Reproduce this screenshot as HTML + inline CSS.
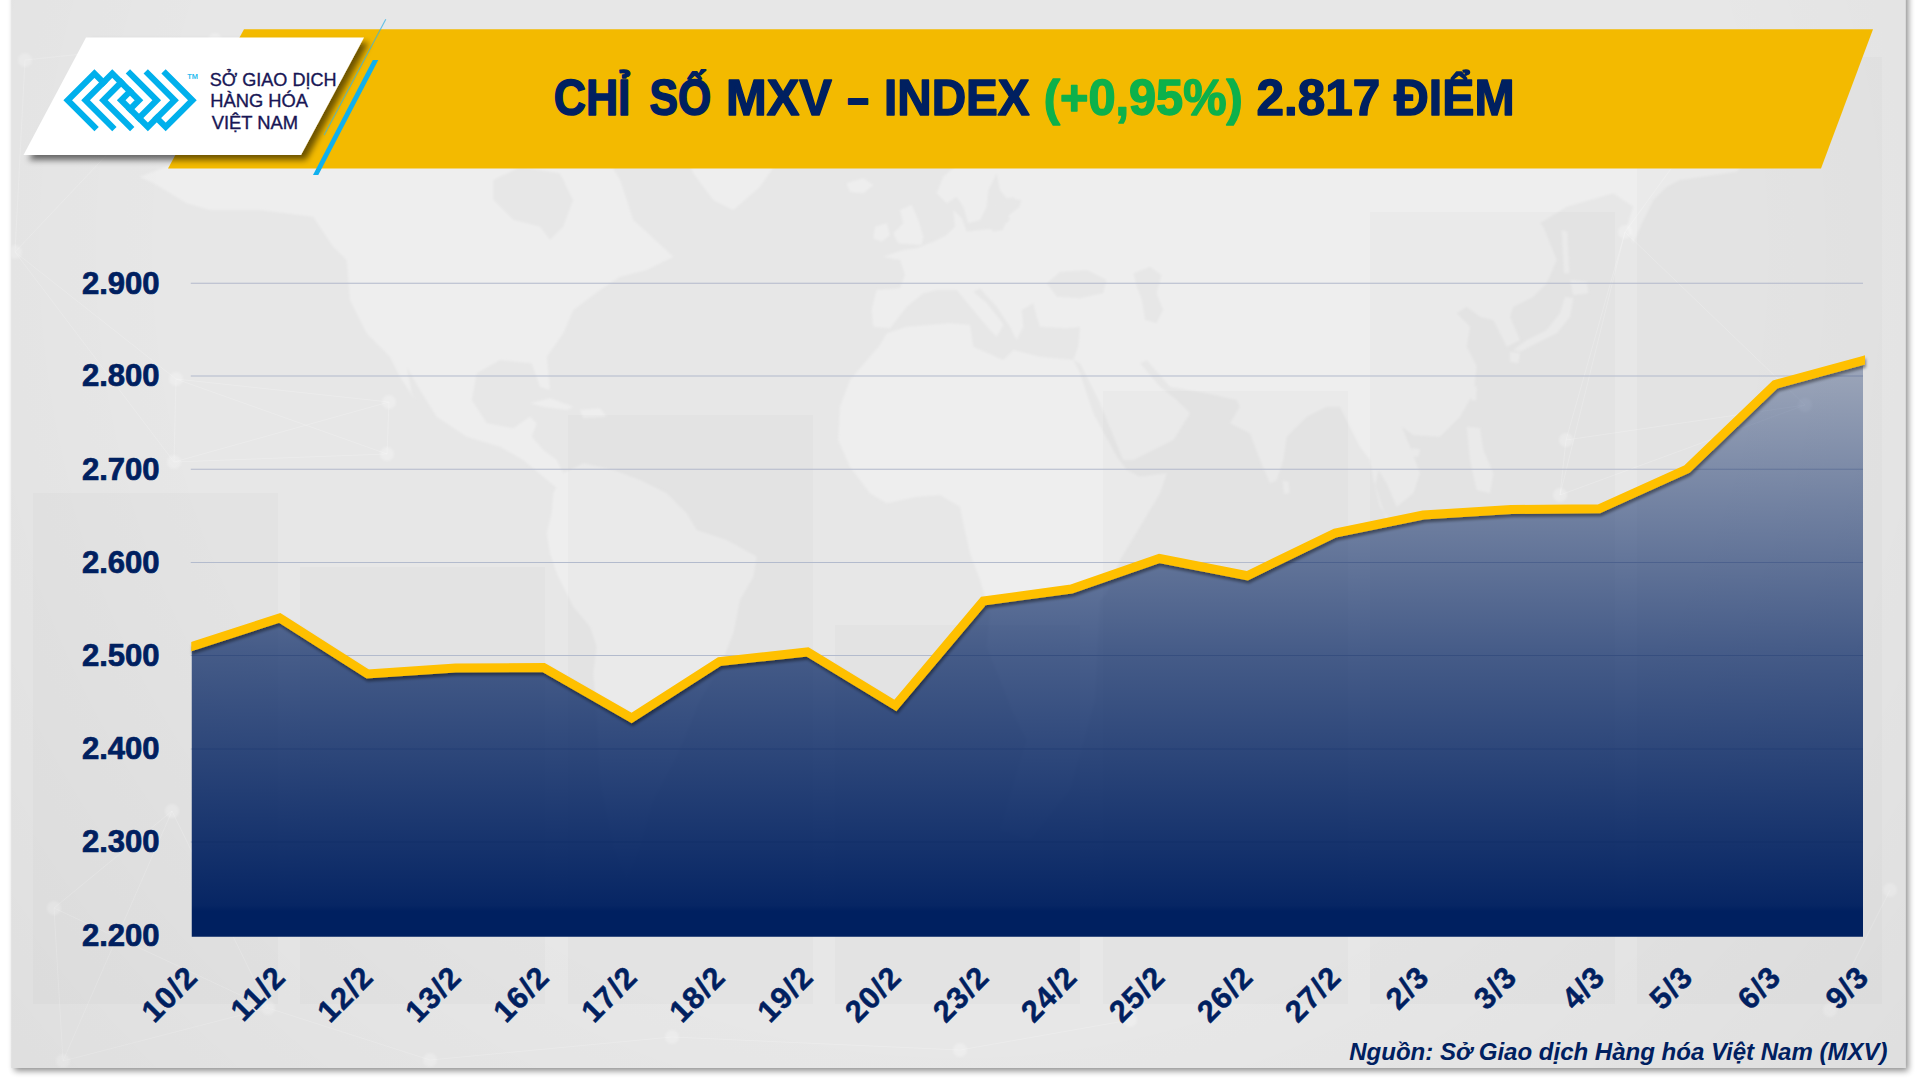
<!DOCTYPE html>
<html lang="vi"><head><meta charset="utf-8"><title>MXV Index</title>
<style>
html,body{margin:0;padding:0;background:#fff;}
body{width:1920px;height:1080px;overflow:hidden;position:relative;font-family:"Liberation Sans",sans-serif;}
svg{position:absolute;left:0;top:0;display:block}
text{font-family:"Liberation Sans",sans-serif;}
</style></head><body>
<svg width="1920" height="1080" viewBox="0 0 1920 1080">
<defs>
<filter id="pshadow" x="-5%" y="-5%" width="110%" height="110%"><feGaussianBlur in="SourceAlpha" stdDeviation="3"/><feOffset dx="3" dy="3"/><feComponentTransfer><feFuncA type="linear" slope="0.45"/></feComponentTransfer><feMerge><feMergeNode/><feMergeNode in="SourceGraphic"/></feMerge></filter>
<filter id="lshadow" x="-5%" y="-20%" width="110%" height="140%"><feGaussianBlur in="SourceAlpha" stdDeviation="1.8"/><feOffset dx="0.8" dy="2.6"/><feComponentTransfer><feFuncA type="linear" slope="0.42"/></feComponentTransfer><feMerge><feMergeNode/><feMergeNode in="SourceGraphic"/></feMerge></filter>
<filter id="wshadow" x="-10%" y="-20%" width="125%" height="150%"><feGaussianBlur in="SourceAlpha" stdDeviation="3.2"/><feOffset dx="4.5" dy="4.5"/><feComponentTransfer><feFuncA type="linear" slope="0.56"/></feComponentTransfer><feMerge><feMergeNode/><feMergeNode in="SourceGraphic"/></feMerge></filter>
<linearGradient id="ag" gradientUnits="userSpaceOnUse" x1="0" y1="360" x2="0" y2="937">
<stop offset="0" stop-color="#002060" stop-opacity="0.30"/>
<stop offset="0.5" stop-color="#002060" stop-opacity="0.69"/>
<stop offset="0.945" stop-color="#002060" stop-opacity="0.97"/>
<stop offset="0.955" stop-color="#002060" stop-opacity="1"/>
<stop offset="1" stop-color="#002060" stop-opacity="1"/>
</linearGradient>
<filter id="soft" x="0" y="0" width="100%" height="100%" filterUnits="userSpaceOnUse"><feGaussianBlur stdDeviation="1.3"/></filter>
<clipPath id="lineclip"><rect x="191.25" y="200" width="1673.75" height="800"/></clipPath>
<clipPath id="panelclip"><rect x="11.3" y="0" width="1894" height="1067.9"/></clipPath>
<radialGradient id="vig" gradientUnits="userSpaceOnUse" cx="960" cy="250" r="1300"><stop offset="0.6" stop-color="#000" stop-opacity="0"/><stop offset="1" stop-color="#000" stop-opacity="0.04"/></radialGradient>
</defs>

<rect x="11.3" y="-10" width="1894" height="1077.9" fill="#e6e6e6" filter="url(#pshadow)"/>
<g id="bg" clip-path="url(#panelclip)">
<rect x="0" y="0" width="1920" height="1080" fill="#e7e7e7"/>
<g filter="url(#soft)">
<path fill="#eeeeee" d="M156.7,185.0 L140.0,176.7 L166.7,166.7 L210.0,146.7 L333.3,140.0 L466.7,140.0 L600.0,146.7 L620.0,180.0 L633.3,220.0 L673.3,256.7 L646.7,270.0 L620.0,276.7 L600.0,290.0 L573.3,310.0 L563.3,333.3 L546.7,356.7 L550.0,390.0 L540.0,386.7 L531.7,363.3 L500.0,360.0 L476.7,373.3 L471.7,400.0 L486.7,423.3 L513.3,428.3 L530.0,416.7 L536.7,423.3 L531.7,436.7 L543.3,450.0 L556.7,460.0 L566.7,480.0 L580.0,493.3 L593.3,496.7 L600.0,506.7 L580.0,503.3 L563.3,493.3 L543.3,476.7 L523.3,460.0 L500.0,446.7 L466.7,436.7 L436.7,416.7 L420.0,390.0 L406.7,366.7 L411.7,393.3 L415.0,400.0 L400.0,376.7 L390.0,356.7 L366.7,333.3 L350.0,300.0 L346.7,260.0 L333.3,246.7 L313.3,216.7 L260.0,210.0 L210.0,210.0 L186.7,203.3 Z M680.0,140.0 L740.0,140.0 L783.3,153.3 L760.0,186.7 L733.3,210.0 L713.3,200.0 L693.3,173.3 Z M530.0,403.3 L550.0,398.3 L573.3,406.7 L566.7,410.0 L543.3,406.7 Z M580.0,410.0 L600.0,408.3 L606.7,416.7 L583.3,418.3 Z M563.3,473.3 L583.3,463.3 L613.3,470.0 L640.0,480.0 L666.7,493.3 L686.7,513.3 L696.7,530.0 L726.7,540.0 L756.7,556.7 L753.3,576.7 L740.0,600.0 L733.3,633.3 L720.0,666.7 L700.0,700.0 L686.7,733.3 L673.3,763.3 L653.3,800.0 L640.0,846.7 L626.7,880.0 L613.3,846.7 L600.0,780.0 L596.7,713.3 L593.3,673.3 L596.7,646.7 L590.0,626.7 L573.3,606.7 L556.7,573.3 L550.0,553.3 L546.7,533.3 L551.7,513.3 L553.3,493.3 Z M1026.7,740.0 L1013.3,713.3 L1000.0,680.0 L986.7,646.7 L990.0,613.3 L980.0,580.0 L970.0,553.3 L963.3,523.3 L960.0,506.7 L940.0,495.0 L916.7,496.7 L886.7,503.3 L870.0,493.3 L850.0,466.7 L838.3,440.0 L840.0,406.7 L850.0,380.0 L880.0,345.0 L886.7,333.3 L906.7,326.7 L950.0,323.3 L970.0,325.0 L973.3,346.7 L1003.3,360.0 L1013.3,350.0 L1040.0,356.7 L1073.3,360.0 L1080.0,373.3 L1093.3,413.3 L1116.7,456.7 L1126.7,470.0 L1140.0,476.7 L1166.7,473.3 L1160.0,493.3 L1140.0,526.7 L1120.0,560.0 L1106.7,593.3 L1100.0,600.0 L1095.0,700.0 L1070.0,790.0 L1030.0,840.0 L1000.0,830.0 Z M873.3,326.7 L871.7,310.0 L876.7,290.0 L900.0,288.3 L905.0,275.0 L900.0,260.0 L883.3,256.7 L903.3,250.0 L916.7,248.3 L933.3,241.7 L946.7,235.0 L955.0,226.7 L953.3,210.0 L961.7,218.3 L966.7,231.7 L980.0,230.0 L1000.0,228.3 L1010.0,220.0 L1006.7,210.0 L1020.0,205.0 L1021.7,200.0 L1006.7,198.3 L1000.0,190.0 L996.7,173.3 L988.3,190.0 L986.7,206.7 L980.0,220.0 L968.3,223.3 L963.3,206.7 L956.7,196.7 L946.7,203.3 L936.7,193.3 L943.3,176.7 L966.7,156.7 L993.3,146.7 L1073.3,140.0 L1746.7,140.0 L1746.7,160.0 L1736.7,171.7 L1680.0,180.0 L1666.7,186.7 L1653.3,200.0 L1643.3,220.0 L1633.3,243.3 L1626.7,226.7 L1633.3,206.7 L1613.3,193.3 L1566.7,206.7 L1540.0,223.3 L1543.3,226.7 L1556.7,260.0 L1546.7,283.3 L1533.3,296.7 L1513.3,306.7 L1510.0,316.7 L1520.0,340.0 L1506.7,346.7 L1500.0,333.3 L1493.3,320.0 L1480.0,316.7 L1466.7,306.7 L1456.7,313.3 L1470.0,326.7 L1466.7,346.7 L1476.7,366.7 L1473.3,393.3 L1460.0,416.7 L1440.0,436.7 L1413.3,435.0 L1401.7,426.7 L1410.0,446.7 L1420.0,473.3 L1413.3,493.3 L1396.7,506.7 L1386.7,483.3 L1378.3,470.0 L1375.0,486.7 L1380.0,506.7 L1390.0,520.0 L1386.7,520.0 L1380.0,500.0 L1373.3,480.0 L1370.0,460.0 L1360.0,446.7 L1350.0,426.7 L1340.0,406.7 L1326.7,406.7 L1306.7,416.7 L1286.7,436.7 L1283.3,460.0 L1276.7,480.0 L1270.0,483.3 L1260.0,460.0 L1250.0,433.3 L1230.0,423.3 L1240.0,406.7 L1236.7,400.0 L1206.7,393.3 L1170.0,386.7 L1146.7,360.0 L1140.0,363.3 L1160.0,386.7 L1176.7,400.0 L1190.0,413.3 L1173.3,440.0 L1133.3,460.0 L1123.3,460.0 L1100.0,403.3 L1080.0,363.3 L1073.3,360.0 L1078.3,346.7 L1080.0,326.7 L1066.7,328.3 L1040.0,326.7 L1036.7,316.7 L1033.3,303.3 L1021.7,310.0 L1023.3,326.7 L1016.7,340.0 L1010.0,326.7 L996.7,306.7 L980.0,288.3 L973.3,291.7 L986.7,303.3 L1000.0,320.0 L1003.3,325.0 L996.7,336.7 L990.0,330.0 L973.3,310.0 L956.7,290.0 L936.7,290.0 L923.3,293.3 L906.7,306.7 L890.0,328.3 Z M898.3,243.3 L893.3,233.3 L903.3,223.3 L900.0,210.0 L911.7,205.0 L918.3,220.0 L923.3,236.7 L921.7,245.0 Z M873.3,238.3 L875.0,226.7 L886.7,223.3 L890.0,235.0 L881.7,241.7 Z M846.7,183.3 L863.3,178.3 L873.3,185.0 L863.3,193.3 L850.0,191.7 Z M1570.0,280.0 L1586.7,281.7 L1588.3,293.3 L1573.3,295.0 Z M1565.0,296.7 L1573.3,298.3 L1570.0,316.7 L1556.7,333.3 L1536.7,343.3 L1520.0,351.7 L1513.3,350.0 L1526.7,340.0 L1546.7,330.0 L1560.0,313.3 Z M1510.0,351.7 L1520.0,353.3 L1518.3,363.3 L1510.0,361.7 Z M1561.7,230.0 L1567.3,231.7 L1569.3,273.3 L1564.0,273.3 Z M1470.7,386.7 L1476.7,386.0 L1476.0,400.7 L1471.3,400.0 Z M1466.7,426.7 L1480.0,428.3 L1483.3,450.0 L1493.3,473.3 L1490.0,493.3 L1476.7,490.0 L1470.0,460.0 Z M1411.7,448.3 L1420.0,449.3 L1418.3,456.7 L1411.7,456.0 Z M1282.7,480.7 L1288.7,481.7 L1289.3,493.3 L1284.0,494.0 Z"/>
<path fill="#e7e7e7" d="M493.3,180.0 L520.0,166.7 L560.0,173.3 L573.3,200.0 L563.3,226.7 L550.0,240.0 L540.0,226.7 L513.3,220.0 L493.3,200.0 Z M1046.7,283.3 L1060.0,271.7 L1086.7,270.0 L1106.7,280.0 L1103.3,293.3 L1080.0,298.3 L1056.7,296.7 Z M1133.3,273.3 L1150.0,266.7 L1161.7,275.0 L1156.7,293.3 L1163.3,310.0 L1156.7,323.3 L1145.0,320.0 L1141.7,300.0 L1136.7,286.7 Z M986.7,223.3 L993.3,203.3 L1013.3,196.7 L1020.0,206.7 L1006.7,216.7 L1003.3,230.0 L993.3,231.7 Z"/>
</g>
<g fill="#000" fill-opacity="0.014">
<rect x="33" y="493" width="245" height="511"/>
<rect x="300" y="567" width="245" height="437"/>
<rect x="568" y="415" width="245" height="589"/>
<rect x="835" y="625" width="245" height="379"/>
<rect x="1103" y="391" width="245" height="613"/>
<rect x="1370" y="212" width="245" height="792"/>
<rect x="1637" y="57" width="245" height="947"/>
</g>
<g stroke="#fff" stroke-opacity="0.2" stroke-width="1" fill="none">
<line x1="54" y1="908" x2="172" y2="811"/>
<line x1="54" y1="908" x2="63" y2="1061"/>
<line x1="54" y1="908" x2="268" y2="1008"/>
<line x1="172" y1="811" x2="63" y2="1061"/>
<line x1="172" y1="811" x2="268" y2="1008"/>
<line x1="63" y1="1061" x2="268" y2="1008"/>
<line x1="268" y1="1008" x2="430" y2="1060"/>
<line x1="672" y1="1037" x2="960" y2="1050"/>
<line x1="672" y1="1037" x2="430" y2="1060"/>
<line x1="176" y1="379" x2="174" y2="462"/>
<line x1="176" y1="379" x2="389" y2="402"/>
<line x1="176" y1="379" x2="387" y2="454"/>
<line x1="176" y1="379" x2="15" y2="252"/>
<line x1="174" y1="462" x2="389" y2="402"/>
<line x1="174" y1="462" x2="387" y2="454"/>
<line x1="174" y1="462" x2="15" y2="252"/>
<line x1="389" y1="402" x2="387" y2="454"/>
<line x1="15" y1="252" x2="25" y2="60"/>
<line x1="15" y1="252" x2="215" y2="40"/>
<line x1="1566" y1="440" x2="1560" y2="495"/>
<line x1="1566" y1="440" x2="1625" y2="232"/>
<line x1="1566" y1="440" x2="1805" y2="405"/>
<line x1="1560" y1="495" x2="1625" y2="232"/>
<line x1="1560" y1="495" x2="1805" y2="405"/>
<line x1="1625" y1="232" x2="1805" y2="405"/>
<line x1="1625" y1="232" x2="1750" y2="60"/>
<line x1="1890" y1="890" x2="1830" y2="1010"/>
<line x1="1130" y1="1020" x2="960" y2="1050"/>
<line x1="25" y1="60" x2="215" y2="40"/>
</g>
<g fill="#fff" fill-opacity="0.24" filter="url(#soft)">
<circle cx="54" cy="908" r="7"/>
<circle cx="172" cy="811" r="7"/>
<circle cx="63" cy="1061" r="7"/>
<circle cx="268" cy="1008" r="7"/>
<circle cx="672" cy="1037" r="7"/>
<circle cx="176" cy="379" r="7"/>
<circle cx="174" cy="462" r="7"/>
<circle cx="389" cy="402" r="7"/>
<circle cx="387" cy="454" r="7"/>
<circle cx="15" cy="252" r="7"/>
<circle cx="1566" cy="440" r="7"/>
<circle cx="1560" cy="495" r="7"/>
<circle cx="1625" cy="232" r="7"/>
<circle cx="1805" cy="405" r="7"/>
<circle cx="1890" cy="890" r="7"/>
<circle cx="1830" cy="1010" r="7"/>
<circle cx="1130" cy="1020" r="7"/>
<circle cx="960" cy="1050" r="7"/>
<circle cx="430" cy="1060" r="7"/>
<circle cx="25" cy="60" r="7"/>
<circle cx="215" cy="40" r="7"/>
<circle cx="1750" cy="60" r="7"/>
</g>
<rect x="0" y="0" width="1920" height="1080" fill="url(#vig)"/>
</g>
<g id="banner">
<polygon points="244,29.2 1873,29.2 1821,168.6 168,168.6" fill="#f3ba00"/>
<polygon points="86,37.5 364,37.5 301,155 23.5,155" fill="#ffffff" filter="url(#wshadow)"/>
<polygon points="372.8,60 378.3,60 318.3,175 313,175" fill="#0fb0ee"/>
<line x1="385.8" y1="19.2" x2="324.2" y2="135" stroke="#35b3e6" stroke-opacity="0.75" stroke-width="1.1"/>
</g>
<g id="logo" transform="matrix(8.906 8.906 8.906 -8.906 67.72 100.23)" fill="none" stroke="#00b0ec" stroke-width="0.485" stroke-linecap="square" stroke-linejoin="miter">
<path d="M3,0 L0,0 L0,3 L1,3"/>
<path d="M4,1 L1,1 L1,4 L4,4 L4,3"/>
<path d="M5,2 L2,2 L2,4"/>
<path d="M3,4 L3,3 L6,3 L6,6 L3,6"/>
<path d="M5,3 L5,5 L2,5"/>
<path d="M6,4 L7,4 L7,7 L4,7"/>
</g>
<text x="187.3" y="78.6" font-size="7" font-weight="bold" fill="#00b0ec" fill-opacity="0.85" textLength="10.8" lengthAdjust="spacingAndGlyphs">TM</text>
<g fill="#181655" stroke="#181655" stroke-width="0.35" id="logotext">
<text transform="translate(209.63,85.90) scale(1.0217,1)" font-size="17.7">SỞ GIAO DỊCH</text>
<text transform="translate(210.27,107.40) scale(1.0364,1)" font-size="17.7">HÀNG HÓA</text>
<text transform="translate(211.70,128.75) scale(1.0389,1)" font-size="17.7">VIỆT NAM</text>
</g>
<g id="title" fill="#002060" stroke="#002060">
<text transform="translate(553.71,114.60) scale(0.8912,1)" font-size="50" font-weight="bold" stroke-width="1.57" stroke-linejoin="round">CHỈ</text>
<text transform="translate(649.43,114.60) scale(0.8535,1)" font-size="50" font-weight="bold" stroke-width="1.64" stroke-linejoin="round">SỐ</text>
<text transform="translate(725.94,114.60) scale(0.9794,1)" font-size="50" font-weight="bold" stroke-width="1.43" stroke-linejoin="round">MXV</text>
<text transform="translate(847.30,114.60) scale(0.7680,1)" font-size="50" font-weight="bold" stroke-width="1.82" stroke-linejoin="round">–</text>
<text transform="translate(883.97,114.60) scale(0.9535,1)" font-size="50" font-weight="bold" stroke-width="1.47" stroke-linejoin="round">INDEX</text>
<text transform="translate(1043.72,114.60) scale(0.9744,1)" font-size="50" font-weight="bold" fill="#0db14b" stroke-width="1.44" stroke-linejoin="round" stroke="#0db14b">(+0,95%)</text>
<text transform="translate(1256.45,114.60) scale(0.9890,1)" font-size="50" font-weight="bold" stroke-width="1.42" stroke-linejoin="round">2.817</text>
<text transform="translate(1394.00,114.60) scale(0.9648,1)" font-size="50" font-weight="bold" stroke-width="1.45" stroke-linejoin="round">ĐIỂM</text>
</g>
<g stroke="#c3c9d8" stroke-width="1">
<line x1="190.75" y1="283.25" x2="1863.0" y2="283.25"/>
<line x1="190.75" y1="376" x2="1863.0" y2="376"/>
<line x1="190.75" y1="469.25" x2="1863.0" y2="469.25"/>
<line x1="190.75" y1="562.5" x2="1863.0" y2="562.5"/>
<line x1="190.75" y1="655.5" x2="1863.0" y2="655.5"/>
<line x1="190.75" y1="749" x2="1863.0" y2="749"/>
<line x1="190.75" y1="842" x2="1863.0" y2="842"/>
</g>
<path d="M191.75,936.75 L191.75,646.50 L279.71,618.00 L367.67,674.00 L455.63,668.00 L543.59,667.50 L631.55,718.00 L719.51,661.50 L807.47,652.00 L895.43,705.50 L983.39,601.00 L1071.36,589.00 L1159.32,558.50 L1247.28,575.75 L1335.24,533.00 L1423.20,515.00 L1511.16,509.50 L1599.12,508.75 L1687.08,469.00 L1775.04,384.50 L1863.00,360.50 L1863.0,936.75 Z" fill="url(#ag)"/>
<g stroke="#001a50" stroke-opacity="0.08" stroke-width="1">
<line x1="190.75" y1="283.25" x2="1863.0" y2="283.25"/>
<line x1="190.75" y1="376" x2="1863.0" y2="376"/>
<line x1="190.75" y1="469.25" x2="1863.0" y2="469.25"/>
<line x1="190.75" y1="562.5" x2="1863.0" y2="562.5"/>
<line x1="190.75" y1="655.5" x2="1863.0" y2="655.5"/>
<line x1="190.75" y1="749" x2="1863.0" y2="749"/>
<line x1="190.75" y1="842" x2="1863.0" y2="842"/>
</g>
<g filter="url(#lshadow)"><polyline clip-path="url(#lineclip)" points="171.75,652.98 191.75,646.50 279.71,618.00 367.67,674.00 455.63,668.00 543.59,667.50 631.55,718.00 719.51,661.50 807.47,652.00 895.43,705.50 983.39,601.00 1071.36,589.00 1159.32,558.50 1247.28,575.75 1335.24,533.00 1423.20,515.00 1511.16,509.50 1599.12,508.75 1687.08,469.00 1775.04,384.50 1863.00,360.50 1883.00,355.04" fill="none" stroke="#ffc000" stroke-width="9" stroke-linejoin="miter" stroke-miterlimit="10"/></g>
<g id="ylabels" fill="#002060" stroke="#002060">
<text transform="translate(81.88,293.55) scale(1.0158,1)" font-size="30.6" font-weight="bold" stroke-width="0.70" stroke-linejoin="round">2.900</text>
<text transform="translate(81.88,386.30) scale(1.0158,1)" font-size="30.6" font-weight="bold" stroke-width="0.70" stroke-linejoin="round">2.800</text>
<text transform="translate(81.88,479.55) scale(1.0158,1)" font-size="30.6" font-weight="bold" stroke-width="0.70" stroke-linejoin="round">2.700</text>
<text transform="translate(81.88,572.80) scale(1.0158,1)" font-size="30.6" font-weight="bold" stroke-width="0.70" stroke-linejoin="round">2.600</text>
<text transform="translate(81.88,665.80) scale(1.0158,1)" font-size="30.6" font-weight="bold" stroke-width="0.70" stroke-linejoin="round">2.500</text>
<text transform="translate(81.88,759.30) scale(1.0158,1)" font-size="30.6" font-weight="bold" stroke-width="0.70" stroke-linejoin="round">2.400</text>
<text transform="translate(81.88,852.30) scale(1.0158,1)" font-size="30.6" font-weight="bold" stroke-width="0.70" stroke-linejoin="round">2.300</text>
<text transform="translate(81.88,946.30) scale(1.0158,1)" font-size="30.6" font-weight="bold" stroke-width="0.70" stroke-linejoin="round">2.200</text>
</g>
<g id="xlabels" font-size="30.5" font-weight="bold" fill="#002060" text-anchor="end" letter-spacing="1.2" stroke="#002060" stroke-width="0.5">
<text transform="translate(199.55,978.60) rotate(-45)">10/2</text>
<text transform="translate(287.51,978.60) rotate(-45)">11/2</text>
<text transform="translate(375.47,978.60) rotate(-45)">12/2</text>
<text transform="translate(463.43,978.60) rotate(-45)">13/2</text>
<text transform="translate(551.39,978.60) rotate(-45)">16/2</text>
<text transform="translate(639.35,978.60) rotate(-45)">17/2</text>
<text transform="translate(727.31,978.60) rotate(-45)">18/2</text>
<text transform="translate(815.27,978.60) rotate(-45)">19/2</text>
<text transform="translate(903.23,978.60) rotate(-45)">20/2</text>
<text transform="translate(991.19,978.60) rotate(-45)">23/2</text>
<text transform="translate(1079.16,978.60) rotate(-45)">24/2</text>
<text transform="translate(1167.12,978.60) rotate(-45)">25/2</text>
<text transform="translate(1255.08,978.60) rotate(-45)">26/2</text>
<text transform="translate(1343.04,978.60) rotate(-45)">27/2</text>
<text transform="translate(1431.00,978.60) rotate(-45)">2/3</text>
<text transform="translate(1518.96,978.60) rotate(-45)">3/3</text>
<text transform="translate(1606.92,978.60) rotate(-45)">4/3</text>
<text transform="translate(1694.88,978.60) rotate(-45)">5/3</text>
<text transform="translate(1782.84,978.60) rotate(-45)">6/3</text>
<text transform="translate(1870.80,978.60) rotate(-45)">9/3</text>
</g>
<text transform="translate(1349.22,1060.20) scale(1.0014,1)" font-size="24" font-weight="bold" font-style="italic" fill="#002060">Nguồn: Sở Giao dịch Hàng hóa Việt Nam (MXV)</text>
</svg></body></html>
